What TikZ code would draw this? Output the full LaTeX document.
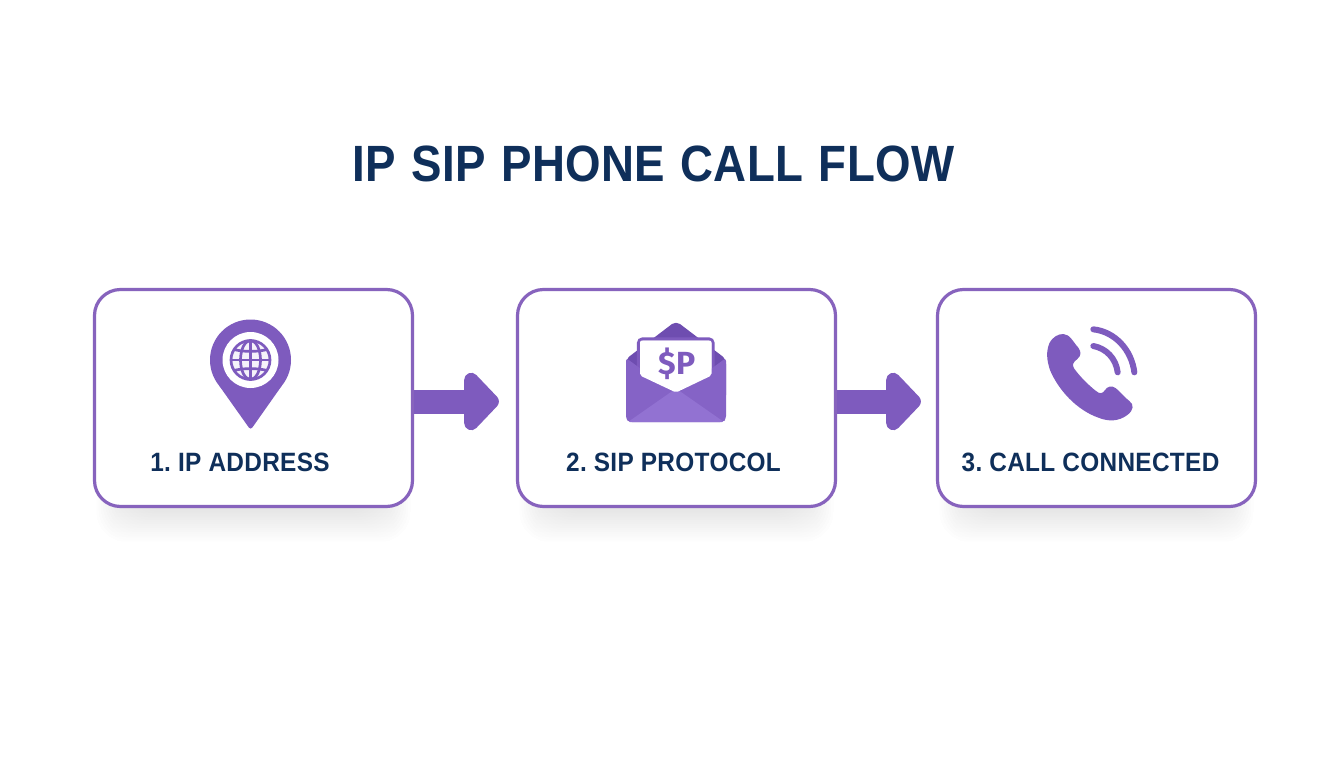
\documentclass[tikz,border=0pt]{standalone}
\usepackage{fontspec}
\setmainfont{Liberation Sans}
\newfontfamily\titlefont[FakeStretch=0.895,LetterSpace=0.6,WordSpace=1.2,BoldFont={Liberation Sans Bold}]{Liberation Sans}
\newfontfamily\labelfont[FakeStretch=0.92,LetterSpace=1.2,BoldFont={Liberation Sans Bold}]{Liberation Sans}
\newfontfamily\iconfont{Fira Sans}
\usetikzlibrary{arrows.meta,calc,positioning}
\definecolor{pur}{HTML}{7E5BBE}
\definecolor{purbox}{HTML}{8763BD}
\definecolor{purdark}{HTML}{6E4DB0}
\definecolor{purmid}{HTML}{8563C6}
\definecolor{purlight}{HTML}{9272D2}
\definecolor{navy}{HTML}{0F2F5A}
\definecolor{shade}{HTML}{2A2F5A}
\tikzset{
  stepbox/.style={draw=purbox,line width=3.2pt,fill=white,rounded corners=26pt,minimum width=318pt,minimum height=217pt,inner sep=0pt},
  title/.style={text=navy,font=\titlefont\fontsize{51}{54}\selectfont\bfseries,inner sep=0pt},
  steplabel/.style={text=navy,font=\labelfont\fontsize{26.5}{28}\selectfont\bfseries,inner sep=0pt},
  flow/.style={draw=pur,line width=24pt},
  flowhead/.style={draw=pur,fill=pur,line width=14pt,line join=round},
  icon/.style={fill=pur,draw=none},
  globeline/.style={draw=pur,line width=2.7pt},
  wave/.style={draw=pur,line width=6pt,line cap=round}
}
\begin{document}
\frenchspacing
\begin{tikzpicture}[x=1pt,y=-1pt]
\useasboundingbox (0,0) rectangle (1344,768);
\fill[white] (0,0) rectangle (1344,768);
\node[title] (ttl) at (653.5,164) {IP SIP PHONE CALL FLOW};
\coordinate (c1) at (253.5,398);
\coordinate (c2) at (676.5,398);
\coordinate (c3) at (1096.5,398);
\foreach \c in {c1,c2,c3}{
  \foreach \g in {40,38,...,2}{
    \fill[shade,opacity=0.0032,rounded corners=30pt] ($(\c)+(-159+46-\g*1.1,0)$) rectangle ($(\c)+(159-46+\g*1.1,104+\g)$);
  }
}
\node[stepbox] (box1) at (c1) {};
\node[stepbox] (box2) at (c2) {};
\node[stepbox] (box3) at (c3) {};
\node[steplabel] (lab1) at (240,462.5) {1. IP ADDRESS};
\node[steplabel] (lab2) at (673.5,462.5) {2. SIP PROTOCOL};
\node[steplabel] (lab3) at (1090.5,462.5) {3. CALL CONNECTED};
\coordinate (end1) at ($(box2.west)+(-17,3.5)$);
\coordinate (end2) at ($(box3.west)+(-15,3.5)$);
\draw[flow] ($(box1.east)+(0,3.5)$) -- ($(end1)+(-25,0)$);
\draw[flowhead] ($(end1)+(-7,0)$) -- ++(-20.7,-21.7) -- ++(0,43.4) -- cycle;
\draw[flow] ($(box2.east)+(0,3.5)$) -- ($(end2)+(-25,0)$);
\draw[flowhead] ($(end2)+(-7,0)$) -- ++(-20.7,-21.7) -- ++(0,43.4) -- cycle;
% pin icon
\begin{scope}
\fill[pur] (250.5,360) circle (40.5);
\path[icon,rounded corners=3pt] (250.5,360) -- (218,384) -- (250.6,430) -- (283,384) -- cycle;
\fill[white] (250.5,360) circle (28);
\draw[globeline,fill=white!92!pur] (250.5,360) circle (19.5);
\draw[globeline] (250.5,360) ellipse (10 and 19.5);
\draw[globeline] (250.5,341) -- (250.5,379);
\draw[globeline] (231.5,360) -- (269.5,360);
\draw[globeline] (234,349.5) .. controls (243,352) and (258,352) .. (267,349.5);
\draw[globeline] (234,370.5) .. controls (243,368) and (258,368) .. (267,370.5);
\end{scope}
% envelope icon
\begin{scope}
\fill[purdark,rounded corners=5pt] (626,359) -- (676,321) -- (726,359) -- (726,400) -- (626,400) -- cycle;
\draw[pur,line width=3.2pt,fill=white,rounded corners=4pt] (638.5,339) -- (713,339) -- (713,376) -- (676,394) -- (638.5,376) -- cycle;
\fill[purmid,rounded corners=3pt] (626,358) -- (676,394.5) -- (726,358) -- (726,419) -- (723,422) -- (629,422) -- (626,419) -- cycle;
\fill[purlight,rounded corners=2pt] (628,422) -- (676,388.5) -- (724,422) -- cycle;
\fill[white,rounded corners=2pt] (640,340.5) -- (711.5,340.5) -- (711.5,375.5) -- (676,392.5) -- (640,375.5) -- cycle;
\node[text=pur,font=\iconfont\fontsize{32}{32}\selectfont\bfseries,inner sep=0pt] (sp) at (677,363.5) {\$P};
\end{scope}
% phone icon
\begin{scope}[shift={(1030,315)},scale=1/3]
\fill[pur] (100,57) .. controls (85,57) and (68,65) .. (58,85)
  .. controls (48,110) and (50,135) .. (60,165)
  .. controls (85,225) and (140,285) .. (205,308)
  .. controls (235,320) and (265,320) .. (292,300)
  .. controls (312,285) and (312,268) .. (298,258)
  .. controls (285,248) and (272,232) .. (258,220)
  .. controls (245,210) and (233,214) .. (225,225)
  .. controls (218,236) and (210,238) .. (198,228)
  .. controls (175,210) and (150,185) .. (132,160)
  .. controls (125,148) and (130,142) .. (142,132)
  .. controls (153,122) and (155,112) .. (145,98)
  .. controls (132,85) and (120,57) .. (100,57) -- cycle;
\draw[wave] (190,43) .. controls (255,50) and (305,105) .. (313,172);
\draw[wave] (190,93) .. controls (228,100) and (258,130) .. (263,172);
\end{scope}
\end{tikzpicture}
\end{document}
